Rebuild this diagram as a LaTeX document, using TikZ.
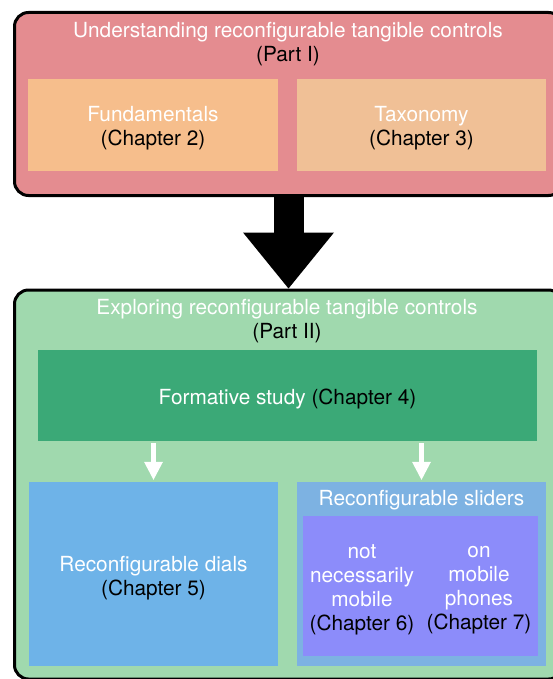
\documentclass[tikz,border=0pt]{standalone}
\usepackage{fontspec}
\setmainfont{TeX Gyre Heros}
\usetikzlibrary{arrows.meta}

\definecolor{partred}{HTML}{E48C90}
\definecolor{fundorange}{HTML}{F6BE8C}
\definecolor{taxorange}{HTML}{F0C096}
\definecolor{partgreen}{HTML}{A0D9AE}
\definecolor{studygreen}{HTML}{3BA977}
\definecolor{dialblue}{HTML}{6EB3E8}
\definecolor{sliderblue}{HTML}{7DB2E2}
\definecolor{mobpurple}{HTML}{8C8CFA}

\tikzset{
  partbox/.style={draw=black, line width=3pt, rounded corners=14pt, inner sep=0pt},
  chapbox/.style={inner sep=0pt, align=center},
  txt/.style={align=center, inner sep=0pt, font=\fontsize{20.8}{24}\selectfont},
  wtxt/.style={txt, text=white},
}

\begin{document}
\begin{tikzpicture}[%
      x=1pt, y=-1pt,
      ]
      \useasboundingbox (0,0) rectangle (553,679);
      \clip (0,0) rectangle (553,679);

      % part I
      \node [partbox, fill=partred, minimum width=548pt, minimum height=183pt,
             anchor=north west] (partI) at (13,11) {};
      \node [txt] (titleI) at (288,44.5)
            {\color{white}Understanding reconfigurable tangible controls\\(Part I)};
      \node [chapbox, fill=fundorange, minimum width=250pt, minimum height=92pt]
            (fund) at (153,125) {};
      \node [txt] at (153,128) {\color{white}Fundamentals\\(Chapter 2)};
      \node [chapbox, fill=taxorange, minimum width=249pt, minimum height=92pt]
            (tax) at (421.5,125) {};
      \node [txt] at (421.5,128) {\color{white}Taxonomy\\(Chapter 3)};

      % part II
      \node [partbox, fill=partgreen, minimum width=548pt, minimum height=389pt,
             anchor=north west] (partII) at (13,288.5) {};
      \node [txt] (titleII) at (287,321.5)
            {\color{white}Exploring reconfigurable tangible controls\\(Part II)};

      \draw [line width=30pt, -{Triangle[width=91pt,length=56pt,line width=0pt]}]
            (partI.south) -- (partII.north);

      \node [chapbox, fill=studygreen, minimum width=499pt, minimum height=91pt]
            (study) at (287.5,395.5) {};
      \node [txt] at (287.5,398.5) {\color{white}Formative study \color{black}(Chapter 4)};

      \node [chapbox, fill=dialblue, minimum width=249pt, minimum height=184pt]
            (dials) at (153.5,574) {};
      \node [txt] at (153.5,578) {\color{white}Reconfigurable dials\\(Chapter 5)};

      \node [chapbox, fill=sliderblue, minimum width=249pt, minimum height=184pt]
            (sliders) at (421.5,574) {};
      \node [wtxt] at (421.5,500) {Reconfigurable sliders};
      \node [chapbox, fill=mobpurple, minimum width=235pt, minimum height=140pt]
            (mobile) at (420.5,586) {};
      \node [txt] (notmob) at (362,590)
            {\color{white}not\\\color{white}necessarily\\\color{white}mobile\\(Chapter 6)};
      \node [txt] (onmob) at (479,590)
            {\color{white}on\\\color{white}mobile\\\color{white}phones\\(Chapter 7)};

      \draw [white, line width=5pt, -{Triangle[width=19pt,length=18pt,line width=0pt]},
             shorten <=2pt, shorten >=2pt]
            (study.south -| dials.north) -- (dials.north);
      \draw [white, line width=5pt, -{Triangle[width=19pt,length=18pt,line width=0pt]},
             shorten <=2pt, shorten >=2pt]
            (study.south -| sliders.north) -- (sliders.north);
      \end{tikzpicture}
\end{document}
